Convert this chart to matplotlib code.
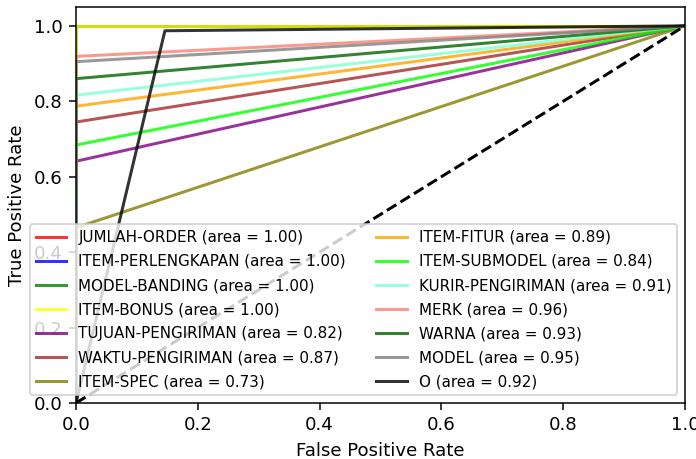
import matplotlib
matplotlib.use("Agg")
import matplotlib.pyplot as plt

# --- ROC points: (0,0) -> (fpr, tpr) -> (1,1) ---
LABELS = [
    "JUMLAH-ORDER", "ITEM-PERLENGKAPAN", "MODEL-BANDING", "ITEM-BONUS",
    "TUJUAN-PENGIRIMAN", "WAKTU-PENGIRIMAN", "ITEM-SPEC", "ITEM-FITUR",
    "ITEM-SUBMODEL", "KURIR-PENGIRIMAN", "MERK", "WARNA", "MODEL", "O",
]
FPR = [0.0, 0.0, 0.0, 0.0, 0.0, 0.0, 0.0, 0.0, 0.0, 0.0, 0.0, 0.0, 0.0, 0.146]
TPR = [1.0, 1.0, 1.0, 1.0, 0.641, 0.745, 0.465, 0.787, 0.684, 0.816, 0.919, 0.860, 0.905, 0.987]
AUC = [1.00, 1.00, 1.00, 1.00, 0.82, 0.87, 0.73, 0.89, 0.84, 0.91, 0.96, 0.93, 0.95, 0.92]

COLORS = ["red", "blue", "green", "yellow", "purple", "brown", "olive",
          "orange", "lime", "aquamarine", "salmon", "darkgreen", "grey", "black"]

plt.rcParams["font.size"] = 9.7

DPI = 135
fig = plt.figure(figsize=(696 / DPI, 459 / DPI), dpi=DPI)
ax = fig.add_axes([76 / 696, 56 / 459, 609 / 696, 396 / 459])

for lab, f, t, a, c in zip(LABELS, FPR, TPR, AUC, COLORS):
    ax.plot([0, f, 1], [0, t, 1], color=c, lw=1.6, alpha=0.8,
            label=f"{lab} (area = {a:0.2f})")

ax.plot([0, 1], [0, 1], "k--", lw=1.6)
ax.set_xlim(0.0, 1.0)
ax.set_ylim(0.0, 1.05)
ax.set_xlabel("False Positive Rate")
ax.set_ylabel("True Positive Rate")
ax.legend(loc="lower right", ncol=2, fontsize="small", labelspacing=0.6)

fig.savefig("out.png", dpi=DPI)
